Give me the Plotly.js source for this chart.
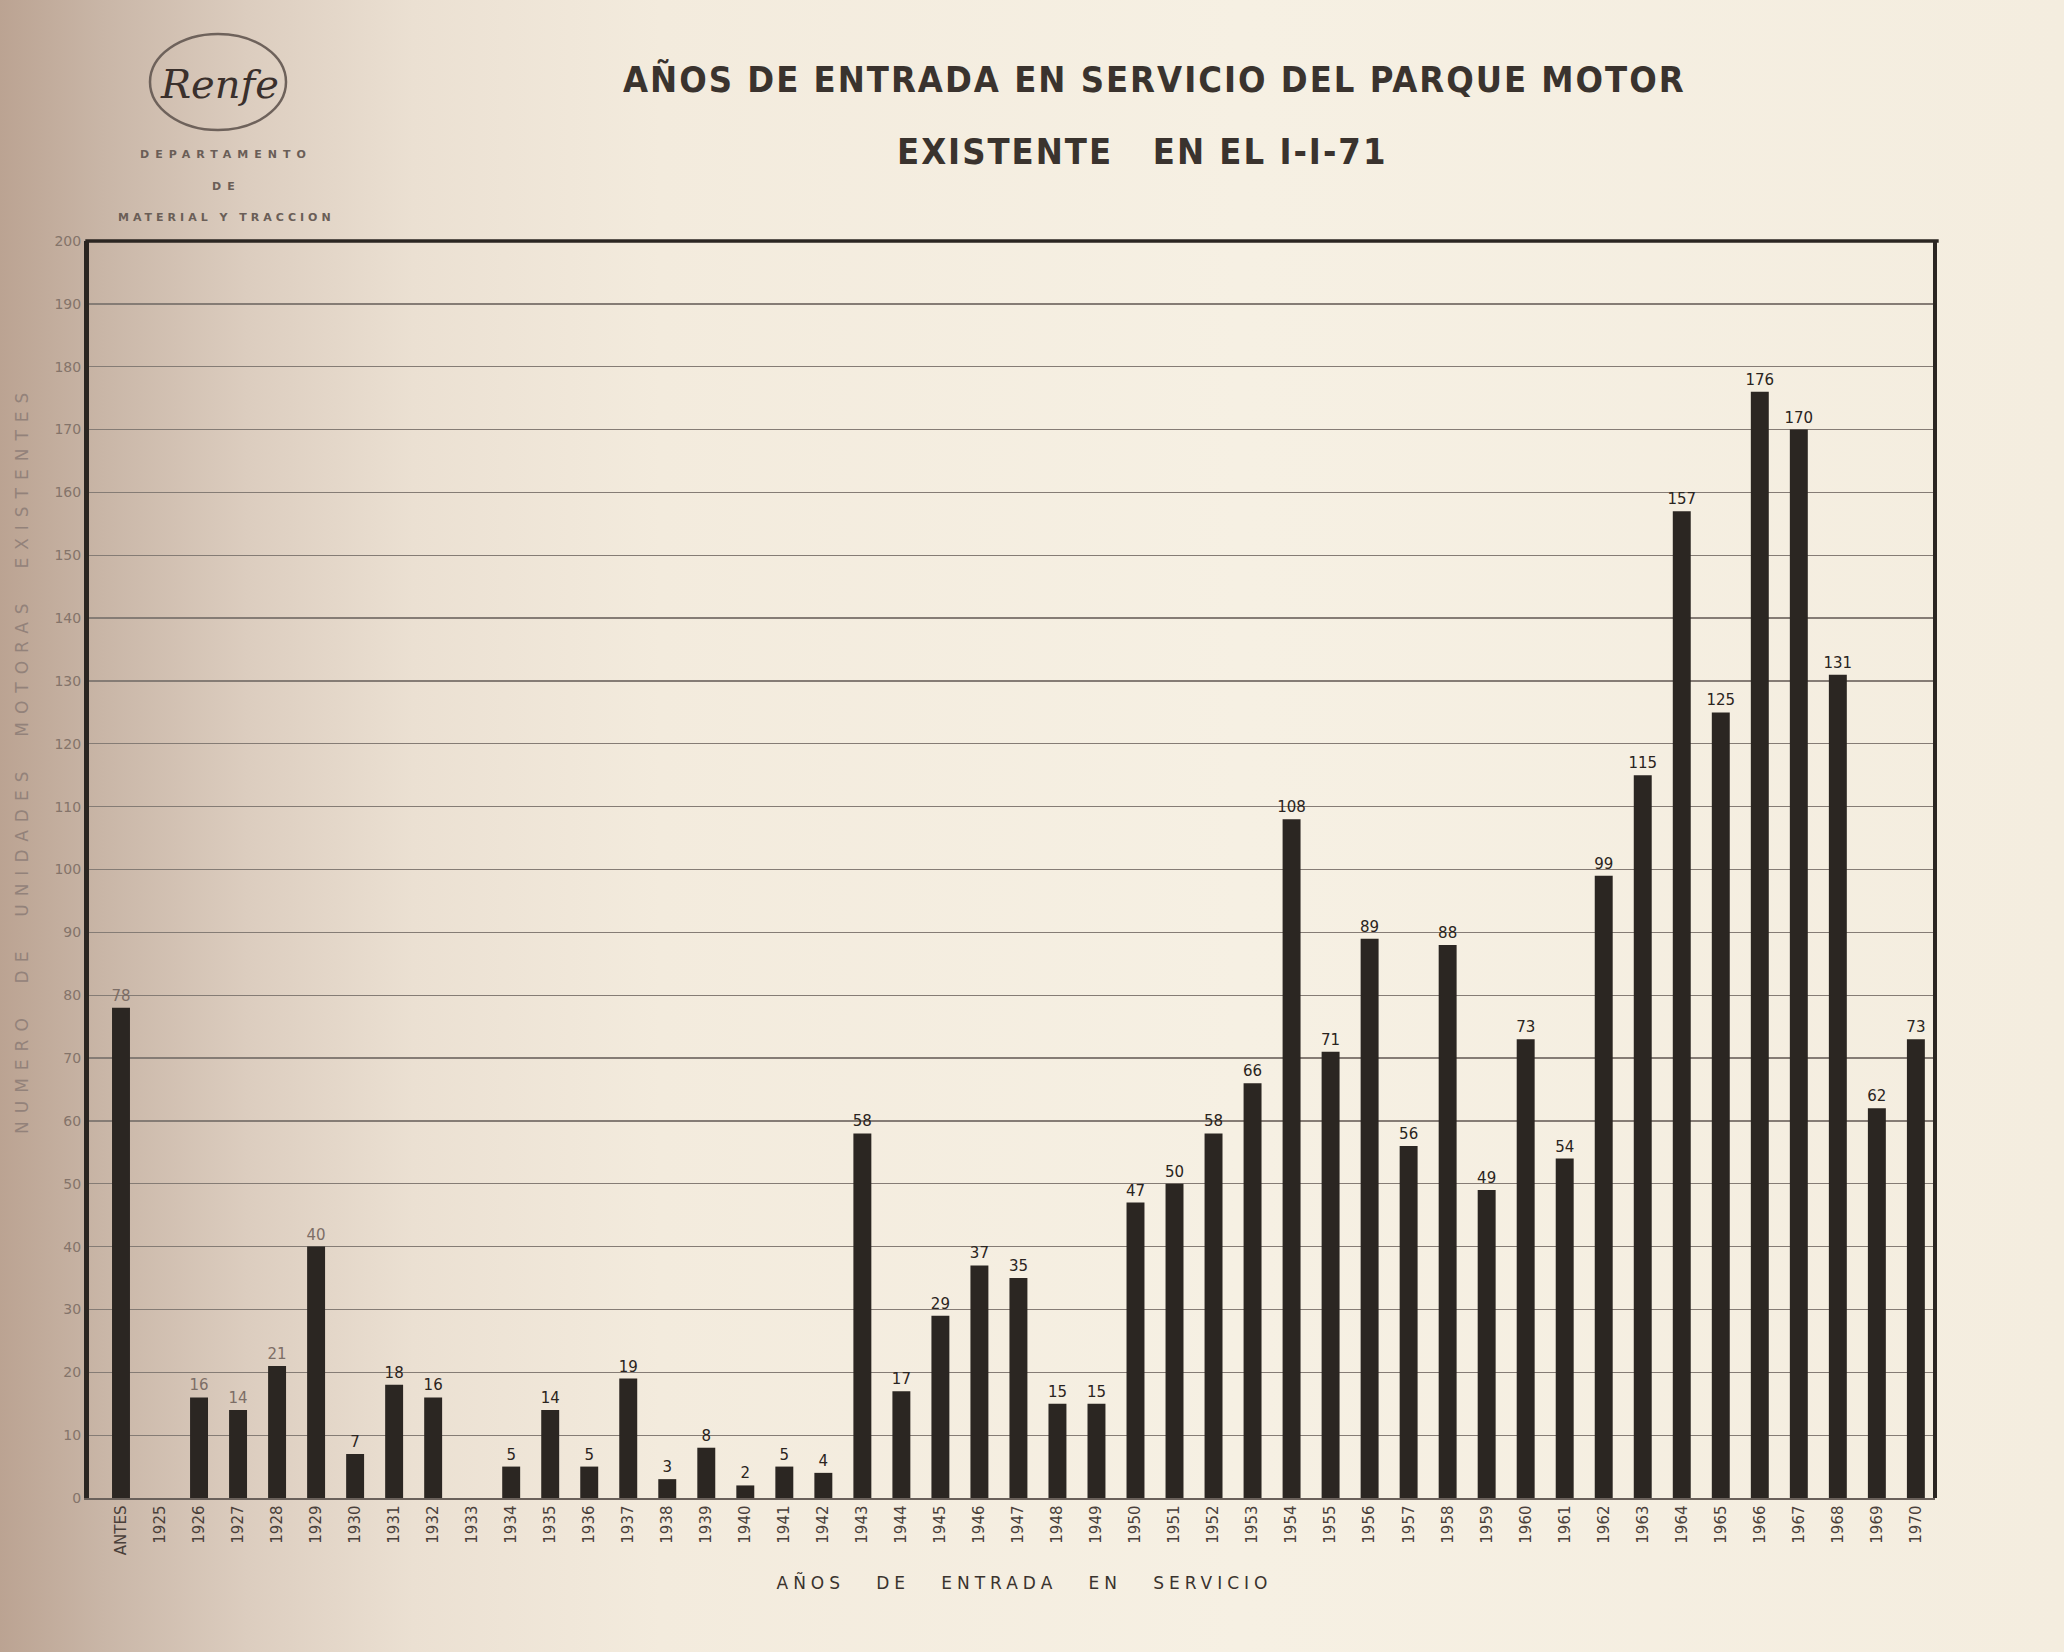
<!DOCTYPE html>
<html>
<head>
<meta charset="utf-8">
<script src="https://cdn.plot.ly/plotly-3.0.1.min.js"></script>
<style>
  html, body { margin: 0; padding: 0; }
  body {
    width: 2064px; height: 1652px; overflow: hidden;
    background: linear-gradient(to right, #bba392 0%, #c9b6a7 5%, #dccdbf 12%, #ebe0d2 20%, #f3ebdd 32%, #f6f0e3 60%, #f4eddf 100%);
  }
  #chart { width: 2064px; height: 1652px; }
</style>
</head>
<body>
<div id="chart"></div>
<script>
// ---- data ----
const categories = ['ANTES','1925','1926','1927','1928','1929','1930','1931','1932','1933',
  '1934','1935','1936','1937','1938','1939','1940','1941','1942','1943','1944','1945','1946',
  '1947','1948','1949','1950','1951','1952','1953','1954','1955','1956','1957','1958','1959',
  '1960','1961','1962','1963','1964','1965','1966','1967','1968','1969','1970'];
const unidades = [78,0,16,14,21,40,7,18,16,0,
  5,14,5,19,3,8,2,5,4,58,17,29,37,
  35,15,15,47,50,58,66,108,71,89,56,88,49,
  73,54,99,115,157,125,176,170,131,62,73];
const yTicks = [0,10,20,30,40,50,60,70,80,90,100,110,120,130,140,150,160,170,180,190,200];

const titleLine1 = 'AÑOS DE ENTRADA EN SERVICIO DEL PARQUE MOTOR';
const titleLine2 = 'EXISTENTE&nbsp;&nbsp;&nbsp;EN EL I-I-71';
const xTitle = 'AÑOS&nbsp;&nbsp;&nbsp;DE&nbsp;&nbsp;&nbsp;ENTRADA&nbsp;&nbsp;&nbsp;EN&nbsp;&nbsp;&nbsp;SERVICIO';
const yTitle = 'NUMERO&nbsp;&nbsp;DE&nbsp;&nbsp;UNIDADES&nbsp;&nbsp;MOTORAS&nbsp;&nbsp;EXISTENTES';

// ---- drawing ----
const ink = '#2b2622';
const labels = unidades.map(v => v === 0 ? '' : String(v));
const labelColors = categories.map((c, i) => i < 6 ? '#7d6e66' : '#2a2420');

const trace = {
  type: 'bar',
  x: categories,
  y: unidades,
  width: 0.46,
  marker: { color: ink, line: { width: 0 } },
  text: labels,
  textposition: 'outside',
  constraintext: 'none',
  cliponaxis: false,
  textfont: { family: 'DejaVu Sans', size: 15, color: labelColors },
  hoverinfo: 'x+y'
};

const L = 89, R = 1935, T = 241, B = 1498;
const px = X => (X - L) / (R - L);
const py = Y => (B - Y) / (B - T);

const layout = {
  width: 2064, height: 1652,
  margin: { l: L, r: 2064 - R, t: T, b: 1652 - B, pad: 0 },
  paper_bgcolor: 'rgba(0,0,0,0)',
  plot_bgcolor: 'rgba(0,0,0,0)',
  showlegend: false,
  xaxis: {
    type: 'category',
    range: [-0.82, 46.49],
    tickangle: -90,
    tickfont: { family: 'DejaVu Sans', size: 15, color: '#4a403a' },
    showline: true, linecolor: '#6a615b', linewidth: 1.5,
    showgrid: false, ticks: '', fixedrange: true
  },
  yaxis: {
    range: [0, 200],
    tickvals: yTicks,
    ticktext: yTicks.map(String),
    tickfont: { family: 'DejaVu Sans', size: 14, color: '#84746a' },
    showline: true, linecolor: ink, linewidth: 5,
    showgrid: true, gridcolor: '#857c75', gridwidth: 1.3,
    zeroline: false, ticks: '', fixedrange: true
  },
  shapes: [
    { type: 'line', xref: 'paper', yref: 'paper', x0: -0.002, x1: 1.002, y0: 1, y1: 1, line: { color: ink, width: 3.5 } },
    { type: 'line', xref: 'paper', yref: 'paper', x0: 1, x1: 1, y0: 0, y1: 1, line: { color: ink, width: 4 } },
    { type: 'circle', xref: 'paper', yref: 'paper', x0: px(150), x1: px(286), y0: py(130), y1: py(34), line: { color: '#6e625b', width: 2.5 } }
  ],
  annotations: [
    { text: titleLine1, xref: 'paper', yref: 'paper', x: px(1154), y: py(79), showarrow: false,
      xanchor: 'center', yanchor: 'middle', font: { family: 'DejaVu Sans Condensed', size: 36, color: '#3a332e', weight: 'bold' } },
    { text: titleLine2, xref: 'paper', yref: 'paper', x: px(1142), y: py(151), showarrow: false,
      xanchor: 'center', yanchor: 'middle', font: { family: 'DejaVu Sans Condensed', size: 36, color: '#3a332e', weight: 'bold' } },
    { text: xTitle, xref: 'paper', yref: 'paper', x: px(1024), y: py(1582), showarrow: false,
      xanchor: 'center', yanchor: 'middle', font: { family: 'DejaVu Sans', size: 17, color: '#3a332e' } },
    { text: yTitle, xref: 'paper', yref: 'paper', x: px(22), y: py(760), showarrow: false, textangle: -90,
      xanchor: 'center', yanchor: 'middle', font: { family: 'DejaVu Sans', size: 17, color: '#93827a' } },
    { text: 'Renfe', xref: 'paper', yref: 'paper', x: px(219), y: py(84), showarrow: false,
      xanchor: 'center', yanchor: 'middle', font: { family: 'DejaVu Serif', size: 40, color: '#3a302c', style: 'italic' } },
    { text: 'DEPARTAMENTO', xref: 'paper', yref: 'paper', x: px(226), y: py(155), showarrow: false,
      xanchor: 'center', yanchor: 'middle', font: { family: 'DejaVu Sans', size: 11, color: '#6a5e57', weight: 'bold' } },
    { text: 'DE', xref: 'paper', yref: 'paper', x: px(226), y: py(186), showarrow: false,
      xanchor: 'center', yanchor: 'middle', font: { family: 'DejaVu Sans', size: 11, color: '#6a5e57', weight: 'bold' } },
    { text: 'MATERIAL Y TRACCION', xref: 'paper', yref: 'paper', x: px(226), y: py(217), showarrow: false,
      xanchor: 'center', yanchor: 'middle', font: { family: 'DejaVu Sans', size: 11, color: '#6a5e57', weight: 'bold' } }
  ]
};

Plotly.newPlot('chart', [trace], layout, { staticPlot: true, displayModeBar: false }).then(() => {
  const spacing = { 'DEPARTAMENTO': '6px', 'DE': '6px', 'MATERIAL Y TRACCION': '4px' };
  document.querySelectorAll('.annotation-text').forEach(el => {
    const t = el.textContent.replace(/\u00a0/g, ' ');
    if (spacing[t]) el.style.letterSpacing = spacing[t];
    if (t.startsWith('AÑOS   DE')) el.style.letterSpacing = '5px';
    if (t.startsWith('NUMERO')) el.style.letterSpacing = '8px';
    if (t.startsWith('AÑOS DE ENTRADA EN SERVICIO DEL') || t.startsWith('EXISTENTE')) el.style.letterSpacing = '2px';
  });
});
</script>
</body>
</html>
